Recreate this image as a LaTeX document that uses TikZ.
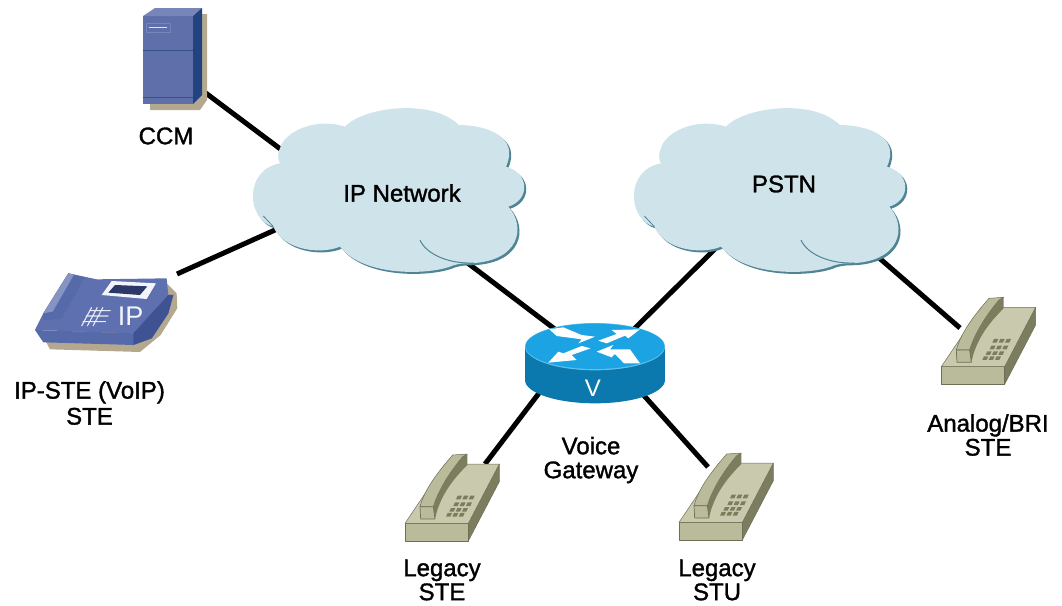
\documentclass[tikz,border=0pt]{standalone}
\usepackage{fontspec}
\setmainfont{Liberation Sans}
\newfontfamily\lblfont{Liberation Sans}[FakeBold=1.4]
\newcommand{\netcloud}[1]{%
  \begin{scope}[shift={(#1,70)},x=0.3333pt,y=-0.3333pt]
    \foreach \d/\c in {6/cloudshade,0/cloudfill}{
      \fill[\c,shift={(\d,\d)}] (180,235) .. controls (190,190) and (280,140) .. (375,170)
        .. controls (430,110) and (640,85) .. (715,165)
        .. controls (800,165) and (900,200) .. (858,290)
        .. controls (930,310) and (930,390) .. (865,410)
        .. controls (920,470) and (900,580) .. (740,580)
        .. controls (720,580) and (700,585) .. (690,590)
        .. controls (620,615) and (430,620) .. (360,530)
        .. controls (300,555) and (190,540) .. (160,470)
        .. controls (80,450) and (70,300) .. (180,280)
        .. controls (170,260) and (175,245) .. (180,235) -- cycle;
    }
    \draw[cloudshade,line width=1pt] (600,510) .. controls (620,555) and (690,582) .. (760,579);
    \draw[cloudshade,line width=.8pt] (130,438) -- (160,470);
  \end{scope}}
\newcommand{\deskphone}[2]{%
  \begin{scope}[shift={(#1,#2)},x=0.3333pt,y=-0.3333pt,line join=round]
    \filldraw[phonedark,draw=phoneline,line width=.5pt] (265,250) -- (358,72) -- (358,125) -- (265,303) -- cycle;
    \filldraw[phonefront,draw=phoneline,line width=.7pt] (75,250) -- (265,250) -- (265,303) -- (75,303) -- cycle;
    \filldraw[phonefill,draw=phoneline,line width=.5pt] (75,250) -- (195,72) -- (358,72) -- (265,250) -- cycle;
    \fill[phonedark] (248,50) -- (262,42) -- (262,75) .. controls (222,115) and (180,165) .. (165,237) -- (160,200) .. controls (175,150) and (210,95) .. (248,50) -- cycle;
    \filldraw[phonefront,draw=phoneline,line width=.5pt] (120,200) .. controls (135,145) and (175,95) .. (218,45) -- (262,42) -- (248,50) .. controls (210,95) and (175,150) .. (160,200) -- cycle;
    \filldraw[phonefront,draw=phoneline,line width=.7pt] (120,200) -- (160,200) -- (165,237) -- (122,237) -- cycle;
    \foreach \ry/\rx in {178/228,198/220,215/208,230/198}{
      \foreach \k in {0,1,2}{
        \fill[phonedark,shift={(\rx+\k*19,\ry)}] (0,0) -- (5,-11) -- (18,-11) -- (13,0) -- cycle;
      }
    }
  \end{scope}}
\tikzset{
  link/.style={line width=5pt,black},
  lbl/.style={inner sep=0pt,align=center,font=\lblfont\fontsize{24}{24}\selectfont,text=black},
}
\definecolor{cloudfill}{HTML}{CFE3EA}
\definecolor{cloudshade}{HTML}{4E8494}
\definecolor{phonefill}{HTML}{C9CAAD}
\definecolor{phonefront}{HTML}{B9BB9B}
\definecolor{phonedark}{HTML}{7C7C5E}
\definecolor{phoneline}{HTML}{6E6E55}
\definecolor{srvfront}{HTML}{5F6FA9}
\definecolor{srvside}{HTML}{23437F}
\definecolor{srvtop}{HTML}{7785B8}
\definecolor{tan}{HTML}{B4A98F}
\definecolor{ipbody}{HTML}{5669A9}
\definecolor{iptop}{HTML}{5E70AF}
\definecolor{ipdark}{HTML}{3F5294}
\definecolor{rtop}{HTML}{1BA3E3}
\definecolor{rside}{HTML}{0B78AE}
\begin{document}
\begin{tikzpicture}[x=1pt,y=-1pt]
\useasboundingbox (0,0) rectangle (1062,605);
% connector ends
\coordinate (ccm) at (205,92.5);
\coordinate (ipnetA) at (285,152.5);
\coordinate (ipste) at (177,274);
\coordinate (ipnetB) at (285,225.5);
\coordinate (ipnetC) at (465,261);
\coordinate (vgwA) at (560,333);
\coordinate (vgwB) at (628,335);
\coordinate (vgwC) at (549,380);
\coordinate (vgwD) at (630,380);
\coordinate (pstnA) at (722,242);
\coordinate (pstnB) at (870,250);
\coordinate (analog) at (960,328);
\coordinate (legste) at (485,464);
\coordinate (legstu) at (708,467);
% connectors
\draw[link] (ccm) -- (ipnetA);
\draw[link] (ipste) -- (ipnetB);
\draw[link] (ipnetC) -- (vgwA);
\draw[link] (vgwB) -- (pstnA);
\draw[link] (pstnB) -- (analog);
\draw[link] (vgwC) -- (legste);
\draw[link] (vgwD) -- (legstu);
% clouds
\netcloud{220}
\netcloud{601}
\node[lbl] (ipnetlabel) at (402,193) {IP Network};
\node[lbl] (pstnlabel) at (784,184) {PSTN};
% server
\fill[tan] (150,110) -- (200,110) -- (207,100) -- (207,14) -- (195,14) -- (150,100) -- cycle;
\fill[srvfront] (143,16) rectangle (193,104);
\fill[srvtop] (143,16) -- (155,8) -- (202,8) -- (193,16) -- cycle;
\fill[srvside] (193,16) -- (202,8) -- (202,95) -- (193,104) -- cycle;
\draw[srvside!70!srvfront,line width=.6pt] (143,50) -- (193,50) (143,97) -- (193,97);
\draw[srvtop,line width=.8pt] (146.5,23) rectangle (170,32);
\draw[white!80!srvfront,line width=1.2pt] (149,27.5) -- (167,27.5);
\node[lbl] (ccmlabel) at (166,136) {CCM};
% IP phone
\begin{scope}[shift={(0,250)},x=0.3333pt,y=-0.3333pt,line join=round]
  \fill[tan] (135,270) -- (150,298) -- (420,306) -- (482,255) -- (532,175) -- (530,130) -- (500,100) -- cycle;
  \fill[iptop] (105,240) -- (130,190) -- (205,70) -- (290,88) -- (500,85) -- (505,135) -- (400,250) -- cycle;
  \fill[ipbody] (105,240) -- (400,250) -- (505,135) -- (520,135) -- (505,190) -- (455,265) -- (400,285) -- (130,277) -- cycle;
  \fill[ipdark] (400,250) -- (505,135) -- (520,135) -- (505,190) -- (455,265) -- (400,285) -- cycle;
  \fill[ipbody] (130,190) -- (205,70) -- (255,82) -- (185,205) -- (130,212) -- cycle;
  \fill[iptop!75!white] (130,190) -- (205,70) -- (222,74) -- (158,185) -- cycle;
  \fill[white!92!iptop] (305,135) -- (335,93) -- (468,100) -- (440,147) -- cycle;
  \fill[ipdark!70!black] (325,128) -- (345,105) -- (442,109) -- (420,135) -- cycle;
  \draw[white!85!iptop,line width=1.1pt]
    (245,228) -- (275,172) (262,228) -- (292,172) (279,228) -- (309,172)
    (248,215) -- (318,215) (258,198) -- (325,198) (268,182) -- (332,182);
  \node[inner sep=0pt,text=white!92!iptop,font=\fontsize{27}{30}\selectfont] (iptext) at (392,198) {IP};
\end{scope}
\node[lbl] (ipstelabel) at (89.5,403) {IP-STE (VoIP)\\[2pt]STE};
% router
\begin{scope}[shift={(500,310)},x=0.3333pt,y=-0.3333pt,line join=round]
  \fill[rside] (75,110) -- (75,210) .. controls (75,248.7) and (169,280) .. (285,280) .. controls (401,280) and (495,248.7) .. (495,210) -- (495,110) -- cycle;
  \fill[rtop!70!white] (285,110) ellipse [x radius=210,y radius=71];
  \fill[rtop] (285,109) ellipse [x radius=208,y radius=68];
  \fill[white] (148,58) -- (190,52) -- (245,75) -- (285,80) -- (235,100) -- (245,88) -- (170,78) -- cycle;
  \fill[white] (295,92) -- (350,72) -- (335,60) -- (420,58) -- (385,85) -- (375,77) -- (320,100) -- cycle;
  \fill[white] (272,115) -- (215,135) -- (230,150) -- (145,158) -- (175,125) -- (190,130) -- (245,108) -- cycle;
  \fill[white] (290,125) -- (340,105) -- (330,118) -- (390,118) -- (420,160) -- (372,160) -- (345,132) -- (335,142) -- cycle;
  \node[inner sep=0pt,text=white,font=\fontsize{24}{26}\selectfont] (vtext) at (279,236) {V};
\end{scope}
\node[lbl] (vgwlabel) at (591,460) {Voice\\Gateway};
% desk phones
\deskphone{380}{440}
\deskphone{654}{439}
\deskphone{916.3}{283.3}
\node[lbl] (legstelabel) at (442,580) {Legacy\\STE};
\node[lbl] (legstulabel) at (717,580) {Legacy\\STU};
\node[lbl] (analoglabel) at (988,435) {Analog/BRI\\STE};
\end{tikzpicture}
\end{document}
